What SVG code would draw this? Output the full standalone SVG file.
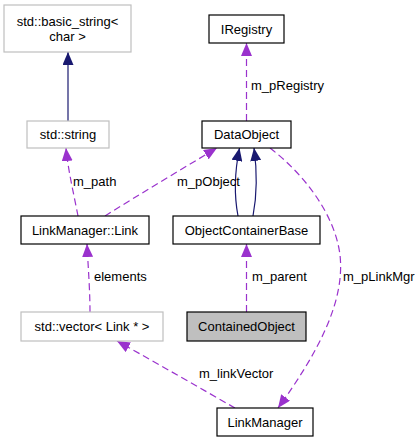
<svg xmlns="http://www.w3.org/2000/svg" width="420" height="443" viewBox="0 0 420 443">
<defs>
<style>
text{font-family:"Liberation Sans",Arial,sans-serif;font-size:13px;fill:#000}
.n{text-anchor:middle}
.b{fill:#fff;stroke:#000;stroke-width:1.2}
.g{fill:#fff;stroke:#bfbfbf;stroke-width:1.2}
.s{fill:#bfbfbf;stroke:#000;stroke-width:1.2}
.inh{fill:none;stroke:#191970;stroke-width:1.2}
.use{fill:none;stroke:#9a32cd;stroke-width:1.2;stroke-dasharray:7,4}
</style>
<marker id="ai" markerUnits="userSpaceOnUse" markerWidth="13" markerHeight="11" refX="13" refY="5.5" orient="auto"><path d="M0,0 L13,5.5 L0,11 z" fill="#191970"/></marker>
<marker id="au" markerUnits="userSpaceOnUse" markerWidth="13" markerHeight="11" refX="13" refY="5.5" orient="auto"><path d="M0,0 L13,5.5 L0,11 z" fill="#9a32cd"/></marker>
</defs>
<g id="connectors">
<path class="inh" d="M68,121 L68,52" marker-end="url(#ai)"/>
<path class="use" d="M78,216 C74,195 68,170 66,148" marker-end="url(#au)"/>
<path class="use" d="M105,216 C140,194 180,170 217,148" marker-end="url(#au)"/>
<path class="use" d="M246.5,121 L246.5,43" marker-end="url(#au)"/>
<path class="inh" d="M238,216 C234,195 235,170 239.5,148" marker-end="url(#ai)"/>
<path class="inh" d="M253,216 C257,195 257,170 254,148" marker-end="url(#ai)"/>
<path class="use" d="M246.5,312 L246.5,244" marker-end="url(#au)"/>
<path class="use" d="M270,148 C305,175 335,215 340,255 C345,300 320,350 278,408" marker-end="url(#au)"/>
<path class="use" d="M235,408 C200,388 160,365 117,341" marker-end="url(#au)"/>
<path class="use" d="M90,312 C90,290 88,265 87,244" marker-end="url(#au)"/>
<text x="73" y="186">m_path</text>
<text x="177" y="186">m_pObject</text>
<text x="251" y="90">m_pRegistry</text>
<text x="94" y="281">elements</text>
<text x="252" y="281">m_parent</text>
<text x="343" y="281">m_pLinkMgr</text>
<text x="199" y="378">m_linkVector</text>
</g>
<g id="basic_string"><rect class="g" x="4" y="5" width="127" height="47"/><text class="n" x="67.5" y="26">std::basic_string&lt;</text><text class="n" x="67.5" y="41">char &gt;</text></g>
<g id="std_string"><rect class="g" x="27" y="121" width="82" height="27"/><text class="n" x="68" y="139">std::string</text></g>
<g id="IRegistry"><rect class="b" x="209" y="15" width="75" height="28"/><text class="n" x="246.5" y="33.5">IRegistry</text></g>
<g id="DataObject"><rect class="b" x="202" y="121" width="89" height="27"/><text class="n" x="246.5" y="139">DataObject</text></g>
<g id="Link"><rect class="b" x="21" y="216" width="128" height="28"/><text class="n" x="85" y="235">LinkManager::Link</text></g>
<g id="ObjectContainerBase"><rect class="b" x="173" y="216" width="147" height="28"/><text class="n" x="246.5" y="235">ObjectContainerBase</text></g>
<g id="vector"><rect class="g" x="21" y="312" width="142" height="29"/><text class="n" x="92" y="331">std::vector&lt; Link * &gt;</text></g>
<g id="ContainedObject"><rect class="s" x="187" y="312" width="119" height="29"/><text class="n" x="246.5" y="331">ContainedObject</text></g>
<g id="LinkManager"><rect class="b" x="217" y="408" width="96" height="28"/><text class="n" x="265" y="427">LinkManager</text></g>
</svg>
